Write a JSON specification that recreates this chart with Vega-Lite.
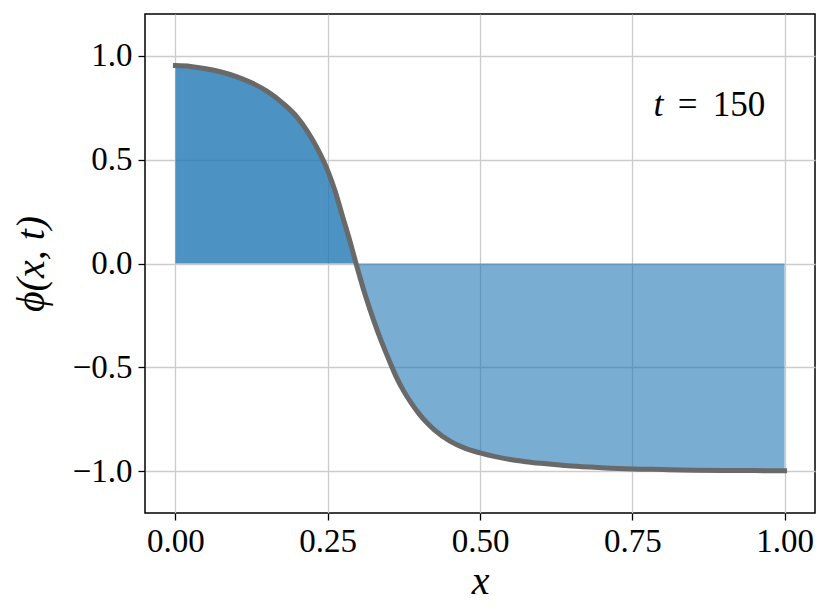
{
  "$schema": "https://vega.github.io/schema/vega-lite/v6.json",
  "autosize": "none",
  "width": 670,
  "height": 499,
  "padding": {"left": 145, "top": 14, "right": 15, "bottom": 101},
  "background": "white",
  "config": {
    "view": {"stroke": "black", "strokeWidth": 1.5},
    "font": "Liberation Serif",
    "axis": {
      "domain": false,
      "grid": true,
      "gridColor": "#cbcbcb",
      "gridWidth": 1.3,
      "tickColor": "black",
      "tickWidth": 1.3,
      "tickSize": 7,
      "labelFont": "Liberation Serif",
      "labelFontSize": 33,
      "labelColor": "black",
      "labelPadding": 5,
      "titleFont": "Liberation Serif",
      "titleFontSize": 40,
      "titleFontWeight": "normal",
      "titleFontStyle": "italic",
      "titleColor": "black"
    }
  },
  "datasets": {
    "profile": [
      {"x": 0.000, "phi": 0.952, "part": "pos"},
      {"x": 0.025, "phi": 0.948, "part": "pos"},
      {"x": 0.050, "phi": 0.937, "part": "pos"},
      {"x": 0.075, "phi": 0.921, "part": "pos"},
      {"x": 0.100, "phi": 0.899, "part": "pos"},
      {"x": 0.125, "phi": 0.869, "part": "pos"},
      {"x": 0.150, "phi": 0.829, "part": "pos"},
      {"x": 0.175, "phi": 0.774, "part": "pos"},
      {"x": 0.200, "phi": 0.703, "part": "pos"},
      {"x": 0.215, "phi": 0.643, "part": "pos"},
      {"x": 0.225, "phi": 0.595, "part": "pos"},
      {"x": 0.2375, "phi": 0.527, "part": "pos"},
      {"x": 0.250, "phi": 0.447, "part": "pos"},
      {"x": 0.2625, "phi": 0.345, "part": "pos"},
      {"x": 0.275, "phi": 0.220, "part": "pos"},
      {"x": 0.2875, "phi": 0.097, "part": "pos"},
      {"x": 0.2965, "phi": 0.0, "part": "pos"},
      {"x": 0.2965, "phi": 0.0, "part": "neg"},
      {"x": 0.3125, "phi": -0.16, "part": "neg"},
      {"x": 0.325, "phi": -0.27, "part": "neg"},
      {"x": 0.3375, "phi": -0.37, "part": "neg"},
      {"x": 0.350, "phi": -0.46, "part": "neg"},
      {"x": 0.3625, "phi": -0.545, "part": "neg"},
      {"x": 0.375, "phi": -0.615, "part": "neg"},
      {"x": 0.3875, "phi": -0.673, "part": "neg"},
      {"x": 0.400, "phi": -0.723, "part": "neg"},
      {"x": 0.4125, "phi": -0.765, "part": "neg"},
      {"x": 0.425, "phi": -0.800, "part": "neg"},
      {"x": 0.450, "phi": -0.853, "part": "neg"},
      {"x": 0.475, "phi": -0.888, "part": "neg"},
      {"x": 0.500, "phi": -0.911, "part": "neg"},
      {"x": 0.525, "phi": -0.929, "part": "neg"},
      {"x": 0.550, "phi": -0.943, "part": "neg"},
      {"x": 0.575, "phi": -0.953, "part": "neg"},
      {"x": 0.600, "phi": -0.961, "part": "neg"},
      {"x": 0.650, "phi": -0.974, "part": "neg"},
      {"x": 0.700, "phi": -0.982, "part": "neg"},
      {"x": 0.750, "phi": -0.988, "part": "neg"},
      {"x": 0.800, "phi": -0.991, "part": "neg"},
      {"x": 0.850, "phi": -0.994, "part": "neg"},
      {"x": 0.900, "phi": -0.995, "part": "neg"},
      {"x": 0.950, "phi": -0.996, "part": "neg"},
      {"x": 1.000, "phi": -0.997, "part": "neg"}
    ],
    "note": [
      {"tx": 0.785, "ty": 0.71, "label": "t", "style": "italic"},
      {"tx": 0.8245, "ty": 0.71, "label": "=", "style": "normal"},
      {"tx": 0.882, "ty": 0.71, "label": "150", "style": "normal"}
    ]
  },
  "layer": [
    {
      "data": {"name": "profile"},
      "mark": {"type": "area", "color": "#1f77b4", "interpolate": "monotone"},
      "encoding": {
        "x": {
          "field": "x",
          "type": "quantitative",
          "scale": {"domain": [-0.05, 1.05], "nice": false, "zero": false},
          "axis": {"title": "x", "values": [0, 0.25, 0.5, 0.75, 1], "format": ".2f", "titleY": 80, "titleBaseline": "alphabetic"}
        },
        "y": {
          "field": "phi",
          "type": "quantitative",
          "stack": null,
          "scale": {"domain": [-1.2, 1.2], "nice": false, "zero": false},
          "axis": {"title": "ϕ(x, t)", "values": [-1, -0.5, 0, 0.5, 1], "format": ".1f", "labelPadding": 6, "titleX": -102, "titleBaseline": "alphabetic"}
        },
        "y2": {"datum": 0},
        "opacity": {"field": "part", "type": "nominal", "scale": {"domain": ["pos", "neg"], "range": [0.8, 0.6]}, "legend": null}
      }
    },
    {
      "data": {"name": "profile"},
      "mark": {"type": "line", "color": "#696969", "strokeWidth": 5, "strokeCap": "square", "interpolate": "monotone"},
      "encoding": {
        "x": {"field": "x", "type": "quantitative"},
        "y": {"field": "phi", "type": "quantitative"}
      }
    },
    {
      "data": {"name": "note"},
      "transform": [{"filter": "datum.style === 'italic'"}],
      "mark": {"type": "text", "font": "Liberation Serif", "fontStyle": "italic", "fontSize": 36, "align": "left", "baseline": "alphabetic", "color": "black"},
      "encoding": {
        "x": {"field": "tx", "type": "quantitative"},
        "y": {"field": "ty", "type": "quantitative"},
        "text": {"field": "label"}
      }
    },
    {
      "data": {"name": "note"},
      "transform": [{"filter": "datum.style === 'normal'"}],
      "mark": {"type": "text", "font": "Liberation Serif", "fontSize": 35, "align": "left", "baseline": "alphabetic", "color": "black"},
      "encoding": {
        "x": {"field": "tx", "type": "quantitative"},
        "y": {"field": "ty", "type": "quantitative"},
        "text": {"field": "label"}
      }
    }
  ]
}
